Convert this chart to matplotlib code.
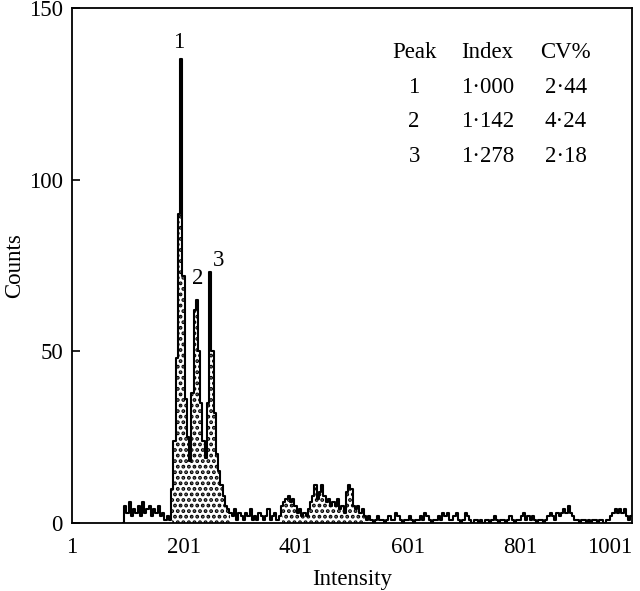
import matplotlib
matplotlib.use("Agg")
import matplotlib.pyplot as plt
import numpy as np

plt.rcParams.update({
    "font.family": "Liberation Serif",
    "font.size": 16,
    "hatch.linewidth": 1.9,
})

# histogram channels: first channel and channel width
X_START = 92
X_STEP = 4

COUNTS = [
    0, 5, 3, 6, 2, 4, 3, 5, 2, 6,          # 92
    3, 4, 5, 2, 4, 3, 5, 2, 3, 1,          # 132
    2, 1, 10, 24, 48, 90, 135, 72, 36, 25,  # 172
    18, 38, 62, 65, 50, 35, 24, 19, 35, 73,  # 212
    50, 32, 20, 15, 11, 8, 5, 4, 3, 2,     # 252
    4, 1, 3, 2, 1, 3, 2, 4, 1, 2,          # 292
    1, 3, 2, 1, 2, 4, 1, 2, 3, 1,          # 332
    2, 5, 6, 7, 8, 6, 7, 5, 3, 4,          # 372
    2, 3, 2, 4, 6, 8, 11, 7, 9, 11,        # 412
    8, 6, 7, 5, 6, 5, 7, 4, 5, 3,          # 452
    9, 11, 10, 5, 4, 5, 3, 4, 2, 1,        # 492
    2, 1, 0, 1, 2, 1, 1, 0, 1, 2,          # 532
    1, 1, 3, 2, 1, 0, 1, 1, 2, 1,          # 572
    0, 1, 1, 2, 1, 3, 2, 1, 0, 1,          # 612
    1, 2, 1, 3, 2, 3, 1, 1, 2, 3,          # 652
    1, 0, 1, 3, 2, 1, 0, 1, 1, 0,          # 692
    1, 0, 1, 1, 0, 1, 2, 1, 0, 1,          # 732
    1, 0, 1, 2, 1, 0, 1, 1, 2, 3,          # 772
    1, 2, 1, 2, 1, 0, 1, 1, 0, 1,          # 812
    2, 3, 2, 1, 3, 2, 3, 4, 3, 5,          # 852
    3, 2, 1, 1, 0, 1, 1, 0, 1, 0,          # 892
    1, 1, 0, 1, 1, 0, 1, 1, 2, 3,          # 932
    4, 3, 4, 3, 4, 2, 1, 2,                # 972
]

# gated (stippled) intensity ranges
GATES = [(178, 284), (374, 526)]

X_TICKS = [1, 201, 401, 601, 801, 1001]
Y_TICKS = [0, 50, 100, 150]

PEAK_LABELS = ["1", "2", "3"]
PEAK_LABEL_POS = [(192, 138.4), (226, 69.6), (262, 74.9)]

TABLE_HEAD = ["Peak", "Index", "CV%"]
TABLE_ROWS = [
    ["1", "1\u00b7000", "2\u00b744"],
    ["2", "1\u00b7142", "4\u00b724"],
    ["3", "1\u00b7278", "2\u00b718"],
]
TABLE_COL_X = [612, 743, 883]
TABLE_ROW_Y = [135.4, 125.3, 115.4, 105.2]   # baselines

x = X_START + X_STEP * np.arange(len(COUNTS))
y = np.array(COUNTS, dtype=float)

fig = plt.figure(figsize=(6.4, 5.91), dpi=100)
ax = fig.add_axes([0.1125, 0.1151, 0.875, 0.8714])

for lo, hi in GATES:
    m = (x >= lo) & (x <= hi)
    ax.fill_between(x, 0, y, where=m, step="mid", facecolor="white",
                    edgecolor="black", hatch="...", linewidth=0)

ax.plot(x, y, drawstyle="steps-mid", color="black", lw=1.5)

for lab, (px, py) in zip(PEAK_LABELS, PEAK_LABEL_POS):
    ax.text(px, py, lab, ha="center", va="baseline", fontsize=16.5)

for cx, h in zip(TABLE_COL_X, TABLE_HEAD):
    ax.text(cx, TABLE_ROW_Y[0], h, ha="center", va="baseline", fontsize=16.5)
for row, ry in zip(TABLE_ROWS, TABLE_ROW_Y[1:]):
    for cx, s in zip(TABLE_COL_X, row):
        ax.text(cx, ry, s, ha="center", va="baseline", fontsize=16.5)

ax.set_xlim(1, 1001)
ax.set_ylim(0, 150)
ax.set_xticks(X_TICKS)
ax.set_yticks(Y_TICKS)
ax.tick_params(axis="y", direction="in", length=6, width=1.2, pad=6.5,
               labelsize=16.5)
ax.tick_params(axis="x", length=0, pad=10, labelsize=16.5)
ax.get_xticklabels()[-1].set_horizontalalignment("right")
for sp in ax.spines.values():
    sp.set_linewidth(1.3)

ax.set_xlabel("Intensity", fontsize=16.5, labelpad=8)
ax.set_ylabel("Counts", fontsize=16.5, labelpad=3)

fig.savefig("out.png", dpi=100)
